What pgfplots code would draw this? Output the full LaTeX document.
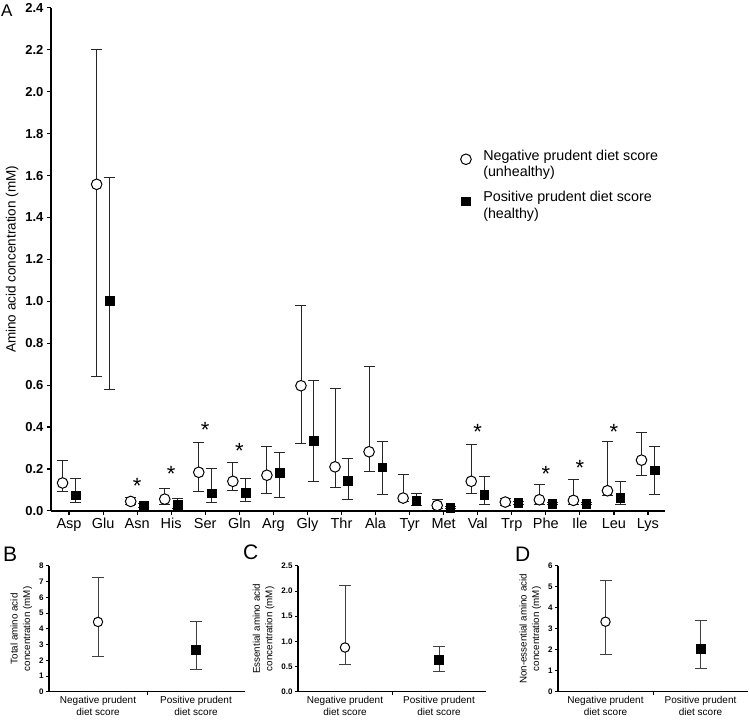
\documentclass[border=0pt]{standalone}
\usepackage{fontspec}
\setmainfont{Liberation Sans}
\usepackage{pgfplots}
\usepackage{pgfplotstable}
\pgfplotsset{compat=1.18}

% circle = negative prudent diet score; columns: index, mean, upper, lower
\pgfplotstableread{
i y hi lo
0 0.133 0.240 0.095
1 1.558 2.200 0.641
2 0.045 0.062 0.030
3 0.056 0.106 0.030
4 0.184 0.325 0.093
5 0.141 0.229 0.096
6 0.170 0.306 0.085
7 0.597 0.981 0.322
8 0.210 0.586 0.114
9 0.282 0.691 0.186
10 0.061 0.173 0.045
11 0.026 0.056 0.013
12 0.141 0.317 0.085
13 0.042 0.061 0.026
14 0.053 0.128 0.032
15 0.050 0.152 0.029
16 0.096 0.330 0.072
17 0.242 0.373 0.170
}\negtab

\pgfplotstableread{
i y hi lo
0 0.074 0.157 0.040
1 1.002 1.592 0.577
2 0.026 0.035 0.018
3 0.029 0.060 0.013
4 0.085 0.200 0.040
5 0.088 0.157 0.043
6 0.182 0.277 0.064
7 0.336 0.621 0.141
8 0.144 0.248 0.053
9 0.208 0.333 0.080
10 0.048 0.085 0.024
11 0.016 0.020 0.012
12 0.077 0.162 0.032
13 0.038 0.045 0.030
14 0.035 0.040 0.030
15 0.035 0.040 0.030
16 0.062 0.141 0.032
17 0.194 0.306 0.080
}\postab

\pgfplotstableread{
i y
2 0.136
3 0.194
4 0.400
5 0.300
12 0.390
14 0.194
15 0.220
16 0.390
}\startab

\pgfplotsset{
  negmark/.style={only marks, mark=*, mark options={fill=white, draw=black, line width=1pt}},
  posmark/.style={only marks, mark=square*, mark options={fill=black, draw=black}},
  smallpanel/.style={
    scale only axis, height=126pt, xmin=0, xmax=2, ymin=0,
    axis lines=left, axis line style={-, line width=1.2pt},
    clip=false, tick align=outside, major tick length=3pt,
    tick style={line width=1pt, black},
    /pgf/number format/assume math mode=true,
    xtick={1}, xticklabels={},
    extra x ticks={0.5,1.5},
    extra x tick labels={{Negative prudent\\diet score},{Positive prudent\\diet score}},
    extra x tick style={major tick length=0pt},
    xticklabel style={align=center, font=\fontsize{10}{12}\selectfont, yshift=-1pt},
    yticklabel style={font=\bfseries\fontsize{8}{8}\selectfont, xshift=1pt},
    ylabel style={align=center, font=\fontsize{9.8}{12.5}\selectfont},
  },
  smallerr/.style={error bars/.cd, y dir=both, y explicit,
    error bar style={line width=0.9pt, black!75},
    error mark options={rotate=90, mark size=6pt, line width=0.9pt, black!75}},
}

\begin{document}
\begin{tikzpicture}
\path (0pt,0pt) rectangle (750pt,717pt);

\node[anchor=base west, inner sep=0pt, font=\fontsize{17}{17}\selectfont] at (1pt,702pt) {A};
\node[anchor=base west, inner sep=0pt, font=\fontsize{21}{21}\selectfont] at (3pt,157pt) {B};
\node[anchor=base west, inner sep=0pt, font=\fontsize{21}{21}\selectfont] at (243pt,159pt) {C};
\node[anchor=base west, inner sep=0pt, font=\fontsize{21}{21}\selectfont] at (515pt,157pt) {D};

\begin{axis}[
  anchor=south west, at={(51pt,208pt)},
  scale only axis, width=614pt, height=503pt,
  xmin=-0.53, xmax=17.5, ymin=0, ymax=2.4,
  axis lines=left, axis line style={-, line width=1.6pt},
  clip=false,
  tick align=outside, major tick length=4pt,
  tick style={line width=1.2pt, black},
  /pgf/number format/assume math mode=true,
  xtick={0,1,2,3,4,5,6,7,8,9,10,11,12,13,14,15,16,17},
  xticklabels={Asp,Glu,Asn,His,Ser,Gln,Arg,Gly,Thr,Ala,Tyr,Met,Val,Trp,Phe,Ile,Leu,Lys},
  ytick={0,0.2,0.4,0.6,0.8,1.0,1.2,1.4,1.6,1.8,2.0,2.2,2.4},
  yticklabel style={font=\bfseries\fontsize{13}{13}\selectfont,
    /pgf/number format/.cd, fixed, fixed zerofill, precision=1},
  xticklabel style={font=\fontsize{14.5}{15}\selectfont},
  ylabel={Amino acid concentration (mM)},
  ylabel style={font=\fontsize{13.5}{14}\selectfont},
  legend style={at={(0.662,0.729)}, anchor=north west,
    draw=none, fill=none, font=\fontsize{14.3}{16.7}\selectfont,
    row sep=16pt, column sep=10pt},
  legend cell align=left,
]
\addplot[negmark, mark size=5.3pt,
  error bars/.cd, y dir=both, y explicit,
  error bar style={line width=0.9pt, black!85},
  error mark options={rotate=90, mark size=5.5pt, line width=0.9pt, black!85}]
  table[x expr=\thisrow{i}-0.19, y=y,
        y error plus expr=\thisrow{hi}-\thisrow{y},
        y error minus expr=\thisrow{y}-\thisrow{lo}]{\negtab};
\addlegendentry{\begin{tabular}{@{}l@{}}Negative prudent diet score\\(unhealthy)\end{tabular}}
\addplot[posmark, mark size=4.3pt,
  error bars/.cd, y dir=both, y explicit,
  error bar style={line width=0.9pt, black!85},
  error mark options={rotate=90, mark size=5.5pt, line width=0.9pt, black!85}]
  table[x expr=\thisrow{i}+0.19, y=y,
        y error plus expr=\thisrow{hi}-\thisrow{y},
        y error minus expr=\thisrow{y}-\thisrow{lo}]{\postab};
\addlegendentry{\begin{tabular}{@{}l@{}}Positive prudent diet score\\(healthy)\end{tabular}}
\addplot[draw=none, mark=none, forget plot, nodes near coords={*},
  every node near coord/.append style={inner sep=0pt,
    font=\fontsize{22}{22}\selectfont, yshift=-11pt}]
  table[x=i, y=y]{\startab};
\end{axis}

% B
\begin{axis}[smallpanel, anchor=south west, at={(49pt,27pt)}, width=196pt,
  ymax=8, ytick={0,1,2,3,4,5,6,7,8},
  ylabel={Total amino acid\\concentration (mM)}]
\addplot[negmark, mark size=4.7pt, smallerr] coordinates {(0.5,4.44) += (0,2.84) -= (0,2.17)};
\addplot[posmark, mark size=4.5pt, smallerr] coordinates {(1.5,2.70) += (0,1.74) -= (0,1.30)};
\end{axis}

% C
\begin{axis}[smallpanel, anchor=south west, at={(298pt,27pt)}, width=188pt,
  ymax=2.5, ytick={0,0.5,1.0,1.5,2.0,2.5},
  yticklabel style={/pgf/number format/.cd, fixed, fixed zerofill, precision=1},
  ylabel={Essential amino acid\\concentration (mM)}]
\addplot[negmark, mark size=4.7pt, smallerr] coordinates {(0.5,0.880) += (0,1.236) -= (0,0.344)};
\addplot[posmark, mark size=4.5pt, smallerr] coordinates {(1.5,0.648) += (0,0.258) -= (0,0.251)};
\end{axis}

% D
\begin{axis}[smallpanel, anchor=south west, at={(558pt,27pt)}, width=190pt,
  ymax=6, ytick={0,1,2,3,4,5,6},
  ylabel={Non-essential amino acid\\concentration (mM)}]
\addplot[negmark, mark size=4.7pt, smallerr] coordinates {(0.5,3.34) += (0,1.96) -= (0,1.56)};
\addplot[posmark, mark size=4.5pt, smallerr] coordinates {(1.5,2.07) += (0,1.35) -= (0,0.97)};
\end{axis}
\end{tikzpicture}
\end{document}
